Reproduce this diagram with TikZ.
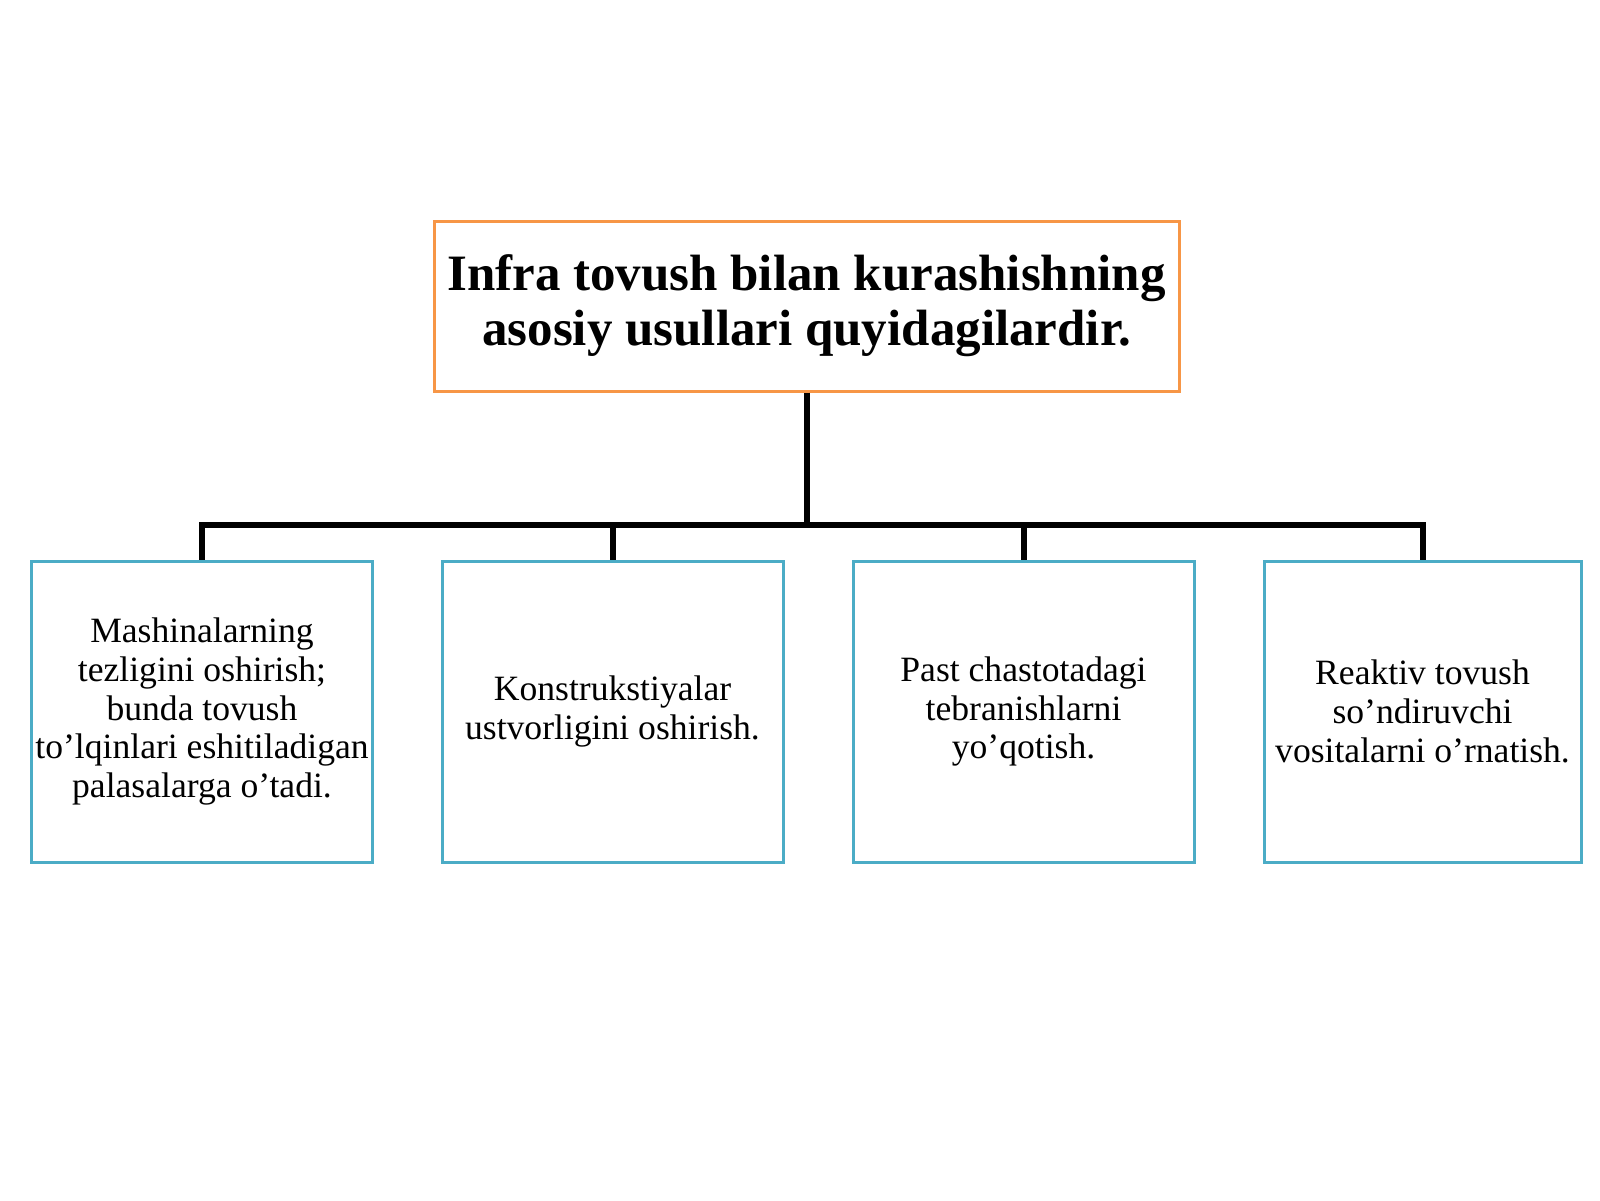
\documentclass[tikz,border=0pt]{standalone}
\usepackage{fontspec}
\setmainfont{Liberation Serif}
\definecolor{myOrange}{RGB}{247,150,70}
\definecolor{myTeal}{RGB}{75,172,198}
\usetikzlibrary{positioning}

\tikzset{
  headbox/.style={draw=myOrange, line width=1.5pt, fill=white, align=center,
    minimum width=372.5pt, minimum height=85pt, inner sep=0pt,
    font=\fontsize{25.5}{27.5}\selectfont\bfseries},
  itembox/.style={draw=myTeal, line width=1.5pt, fill=white, align=center,
    minimum width=170.5pt, minimum height=150.5pt, inner sep=0pt,
    font=\fontsize{17.8}{19.4}\selectfont},
  bus/.style={line width=3pt}
}

\begin{document}
\begin{tikzpicture}[x=0.5pt,y=-0.5pt]
                \useasboundingbox (0,0) rectangle (1600,1200);

                \node[headbox] (head) at (806.5,306) {Infra tovush bilan kurashishning\\asosiy usullari quyidagilardir.};

                \node[itembox] (m1) at (202,711.5) {Mashinalarning\\tezligini oshirish;\\bunda tovush\\to’lqinlari eshitiladigan\\palasalarga o’tadi.};
                \node[itembox] (m2) at (612.5,711.5) {Konstrukstiyalar\\ustvorligini oshirish.};
                \node[itembox] (m3) at (1023.5,711.5) {Past chastotadagi\\tebranishlarni\\yo’qotish.};
                \node[itembox, minimum width=158.5pt] (m4) at (1422.5,711.5) {Reaktiv tovush\\so’ndiruvchi\\vositalarni o’rnatish.};

                \coordinate (hub) at (806.5,525);
                \draw[bus] (head.south) -- (hub);
                \draw[bus] (m1.north) |- (hub);
                \draw[bus] (m4.north) |- (hub);
                \draw[bus] (m2.north) -- (m2.north |- hub);
                \draw[bus] (m3.north) -- (m3.north |- hub);

            \end{tikzpicture}
\end{document}
